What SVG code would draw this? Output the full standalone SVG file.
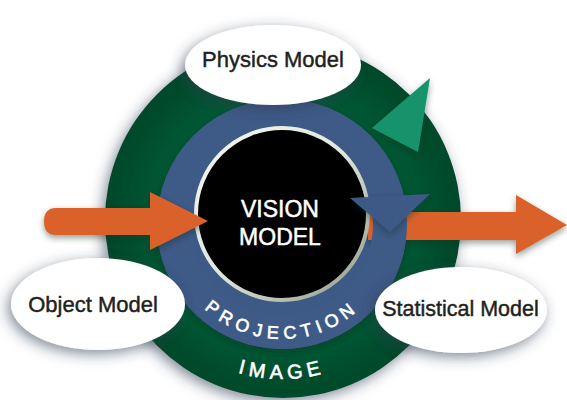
<svg xmlns="http://www.w3.org/2000/svg" width="567" height="400" viewBox="0 0 567 400">
  <defs>
    <style>
      .lbl { font-family: "Liberation Sans", Arial, sans-serif; fill: #231f20; stroke: #231f20; stroke-width: 0.45px; text-anchor: middle; }
      .ctr { font-family: "Liberation Sans", Arial, sans-serif; fill: #ffffff; stroke: #ffffff; stroke-width: 0.5px; text-anchor: middle; font-size: 23px; }
      .arc { font-family: "Liberation Sans", Arial, sans-serif; fill: #ffffff; stroke: #ffffff; stroke-width: 0.6px; text-anchor: middle; }
      .bubble { fill: #ffffff; filter: url(#sh); }
      .orange { fill: #da6229; filter: url(#shs); }
    </style>
    <filter id="sh" x="-30%" y="-30%" width="160%" height="160%">
      <feDropShadow dx="-3" dy="4" stdDeviation="7" flood-color="#2c3e50" flood-opacity="0.6"/>
    </filter>
    <filter id="shs" x="-20%" y="-30%" width="140%" height="180%">
      <feDropShadow dx="0" dy="3" stdDeviation="3" flood-color="#1a2a20" flood-opacity="0.45"/>
    </filter>
    <radialGradient id="greenG" cx="50%" cy="50%" r="50%">
      <stop offset="0.7" stop-color="#065833"/>
      <stop offset="1" stop-color="#03482a"/>
    </radialGradient>
    <linearGradient id="silver" x1="0" y1="0" x2="1" y2="1">
      <stop offset="0" stop-color="#f4f7f0"/>
      <stop offset="0.5" stop-color="#dfe6da"/>
      <stop offset="1" stop-color="#8e9784"/>
    </linearGradient>
    <path id="projArc" d="M 194 298 A 115 115 0 0 0 370 298"/>
    <path id="imgArc" d="M 160 322 A 159 159 0 0 0 404 322"/>
  </defs>
  <rect width="567" height="400" fill="#ffffff"/>

  <g id="image-ring">
    <circle cx="283" cy="220" r="178" fill="url(#greenG)" filter="url(#sh)"/>
    <text class="arc" font-size="20" letter-spacing="5"><textPath href="#imgArc" startOffset="50%">IMAGE</textPath></text>
  </g>

  <g id="projection-ring">
    <circle cx="282" cy="224" r="125" fill="#3e5a87" filter="url(#shs)"/>
  </g>

  <g id="connectors">
    <path id="arrow-out" class="orange" d="M 368 212 H 516 V 195 L 567 225 L 516 254 V 240 H 368 Z"/>
  </g>

  <g id="projection-band">
    <circle cx="282" cy="224" r="108" fill="none" stroke="#3e5a87" stroke-width="34"/>
    <text class="arc" font-size="18" letter-spacing="5.5"><textPath href="#projArc" startOffset="50%">PROJECTION</textPath></text>
  </g>

  <g id="vision-model">
    <circle cx="282" cy="214" r="86" fill="#000000" stroke="url(#silver)" stroke-width="4"/>
    <text class="ctr" x="280" y="217">VISION</text>
    <text class="ctr" x="280" y="245">MODEL</text>
  </g>

  <g id="arrowheads">
    <polygon points="350,198 430,194 390,232" fill="#3e5a87" filter="url(#shs)"/>
    <polygon points="430,78 372,128 418,152" fill="#17936b" filter="url(#shs)"/>
    <path id="arrow-in" class="orange" d="M 56 208 H 150 V 192 L 208 221 L 150 250 V 235 H 56 Q 44 235 44 221.5 Q 44 208 56 208 Z"/>
  </g>

  <g id="physics-model">
    <ellipse class="bubble" cx="273" cy="65" rx="88" ry="40"/>
    <text class="lbl" x="273" y="67" font-size="22">Physics Model</text>
  </g>

  <g id="object-model">
    <ellipse class="bubble" cx="98" cy="304" rx="87" ry="46"/>
    <text class="lbl" x="93" y="312" font-size="22">Object Model</text>
  </g>

  <g id="statistical-model">
    <ellipse class="bubble" cx="461" cy="310" rx="86" ry="43"/>
    <text class="lbl" x="460.5" y="316" font-size="21.5">Statistical Model</text>
  </g>
</svg>
